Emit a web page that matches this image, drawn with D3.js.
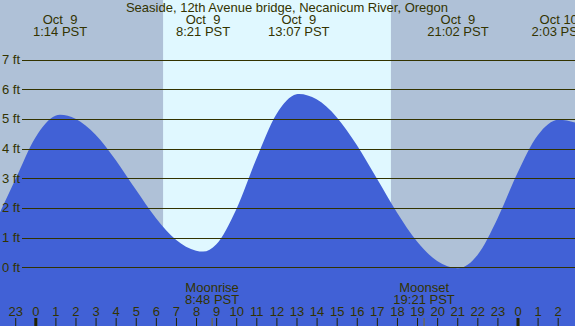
<!doctype html>
<html lang="en">
  <head>
    <meta charset="utf-8">
    <title>Seaside tide chart</title>
    <style>
      body { margin: 0; background: #fff; }
      svg { display: block; font-family: "Liberation Sans", Arial, sans-serif; }
      text { fill: #333300; white-space: pre; }
    </style>
  </head>
  <body>
    <script src="https://cdn.jsdelivr.net/npm/d3@7"></script>
    <script>

      // hours counted from Oct 9 00:00 PST (negative = Oct 8, >24 = Oct 10)
      // hourly readings, plus the high/low points
      var tideHours = [-2, -1, 0, 1, 1.23, 2, 3, 4, 5, 6, 7, 8, 8.35, 9, 10, 11, 12, 13, 13.12,
                       14, 15, 16, 17, 18, 19, 20, 21.03, 22, 23, 24, 25, 26.05, 27];
      var tideFeet  = [1.50, 2.95, 4.37, 5.11, 5.14, 5.01, 4.47, 3.62, 2.62, 1.66, 0.93, 0.56, 0.53,
                       0.77, 1.95, 3.65, 5.16, 5.83, 5.84,
                       5.66, 5.06, 4.12, 2.99, 1.85, 0.87, 0.21, -0.03, 0.41, 1.64, 3.18, 4.44, 4.97, 4.85];

      // high / low tide labels
      var extremeHours = [1.233, 8.35, 13.117, 21.033, 26.05];
      var extremeDays  = ["Oct  9", "Oct  9", "Oct  9", "Oct  9", "Oct 10"];
      var extremeTimes = ["1:14 PST", "8:21 PST", "13:07 PST", "21:02 PST", "2:03 PST"];

      // sun and moon
      var sunrise = 6.36, sunset = 17.70;
      var moonEvents = ["Moonrise", "Moonset"];
      var moonHours  = [8.8, 19.35];
      var moonTimes  = ["8:48 PST", "19:21 PST"];

      var feetTicks = [0, 1, 2, 3, 4, 5, 6, 7];
      var hourTicks = d3.range(-1, 27);

      var width = 575, height = 326, fs = 13;

      var svg = d3.select("body")
        .append("svg")
        .attr("width", width)
        .attr("height", height);

      var x = d3.scaleLinear()
        .domain([0, 24])
        .range([35.3, 517.5]);

      var y = d3.scaleLinear()
        .domain([0, 7])
        .range([267.3, 59.6]);

      // night background, then daylight band
      svg.append("rect")
        .attr("width", width)
        .attr("height", height)
        .attr("fill", "#afc1d7");

      svg.append("rect")
        .attr("x", x(sunrise))
        .attr("width", x(sunset) - x(sunrise))
        .attr("height", height)
        .attr("fill", "#e0f8ff");

      var tide = tideHours.map(function(h, i){ return [h, tideFeet[i]]; });

      var area = d3.area()
        .x(function(d){ return x(d[0]); })
        .y0(height)
        .y1(function(d){ return y(d[1]); })
        .curve(d3.curveMonotoneX);

      svg.append("path")
        .datum(tide)
        .attr("d", area)
        .attr("fill", "#4161d6");

      // level lines
      svg.selectAll(".level")
        .data(feetTicks)
        .enter()
        .append("line")
        .attr("x1", 22)
        .attr("x2", width)
        .attr("y1", function(d){ return Math.round(y(d)) + 0.5; })
        .attr("y2", function(d){ return Math.round(y(d)) + 0.5; })
        .attr("stroke", "#333300")
        .attr("stroke-width", 1.2);

      svg.selectAll(".flabel")
        .data(feetTicks)
        .enter()
        .append("text")
        .attr("x", 2)
        .attr("y", function(d){ return y(d) + 4.5; })
        .attr("font-size", fs)
        .text(function(d){ return d + " ft"; });

      svg.append("text")
        .attr("x", 287)
        .attr("y", 12)
        .attr("text-anchor", "middle")
        .attr("font-size", fs)
        .text("Seaside, 12th Avenue bridge, Necanicum River, Oregon");

      var ext = svg.selectAll(".ext")
        .data(extremeHours)
        .enter()
        .append("g")
        .attr("transform", function(d){ return "translate(" + x(d) + ",0)"; });

      ext.append("text")
        .attr("y", 23.5)
        .attr("text-anchor", "middle")
        .attr("font-size", fs)
        .text(function(d, i){ return extremeDays[i]; });

      ext.append("text")
        .attr("y", 36)
        .attr("text-anchor", "middle")
        .attr("font-size", fs)
        .text(function(d, i){ return extremeTimes[i]; });

      var moon = svg.selectAll(".moon")
        .data(moonHours)
        .enter()
        .append("g")
        .attr("transform", function(d){ return "translate(" + x(d) + ",0)"; });

      moon.append("text")
        .attr("y", 292)
        .attr("text-anchor", "middle")
        .attr("font-size", fs)
        .text(function(d, i){ return moonEvents[i]; });

      moon.append("text")
        .attr("y", 304)
        .attr("text-anchor", "middle")
        .attr("font-size", fs)
        .text(function(d, i){ return moonTimes[i]; });

      moon.append("line")
        .attr("y1", 318)
        .attr("y2", height)
        .attr("stroke", "#7a6a20")
        .attr("stroke-width", 1);

      // hour axis, labels above the ticks
      var axis = svg.append("g")
        .attr("transform", "translate(0," + height + ")")
        .call(d3.axisTop(x)
          .tickValues(hourTicks)
          .tickSize(8)
          .tickPadding(2)
          .tickFormat(function(h){ return (h + 24) % 24; }));

      axis.select(".domain").remove();
      axis.selectAll("text")
        .attr("font-size", fs)
        .attr("font-family", "Liberation Sans, Arial, sans-serif")
        .attr("fill", "#333300");
      axis.selectAll("line")
        .attr("stroke", "#222200")
        .attr("stroke-width", function(h){ return h % 24 === 0 ? 3 : 1; });

    </script>
  </body>
</html>
